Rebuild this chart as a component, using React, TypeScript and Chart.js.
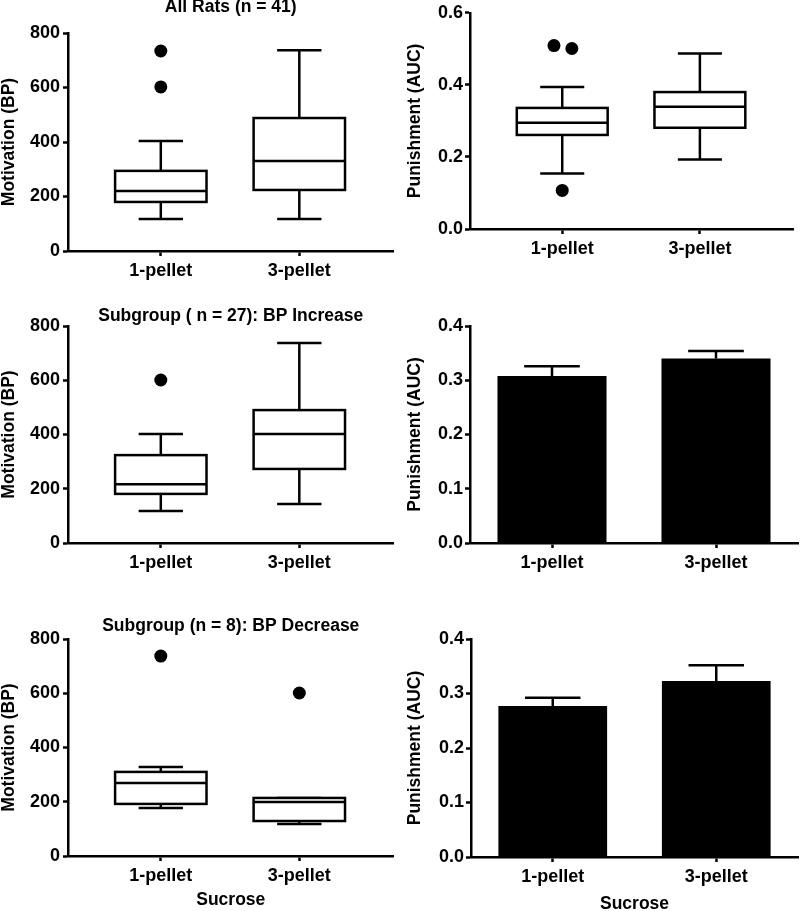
import React, { useEffect, useRef } from 'react';
import { Chart, registerables } from 'chart.js';
Chart.register(...registerables);

const FONT = "'Liberation Sans', Arial, Helvetica, sans-serif";

// Categories / tick labels
const categories = ['1-pellet', '3-pellet'];

// Box statistics: [min, q1, median, q3, max]
const allMotiv1Box = [117, 180, 220, 294, 404];
const allMotiv3Box = [117, 224, 330, 488, 737];
const allMotivOutX = [0, 0];
const allMotivOutY = [602, 734];

const allPun1Box = [0.154, 0.261, 0.295, 0.336, 0.394];
const allPun3Box = [0.193, 0.281, 0.339, 0.38, 0.487];
const allPunOutX = [-0.06, 0.07, 0];
const allPunOutY = [0.509, 0.501, 0.107];

const incMotiv1Box = [118, 181, 217, 324, 402];
const incMotiv3Box = [144, 273, 402, 490, 737];
const incMotivOutX = [0];
const incMotivOutY = [601];

const decMotiv1Box = [177, 192, 269, 310, 328];
const decMotiv3Box = [118, 129, 199, 214, 214];
const decMotivOutX = [0, 1];
const decMotivOutY = [737, 601];

// Bar means and SEM
const incPunMeans = [0.308, 0.34];
const incPunErr = [0.018, 0.014];
const decPunMeans = [0.277, 0.323];
const decPunErr = [0.015, 0.029];

const titles = ['All Rats (n = 41)', 'Subgroup ( n = 27): BP Increase', 'Subgroup (n = 8): BP Decrease'];
const motivTitle = 'Motivation (BP)';
const punTitle = 'Punishment (AUC)';
const xTitle = 'Sucrose';

type Area = { left: number; top: number; right: number; bottom: number };

const tickFont = { family: FONT, size: 18, weight: 'bold' as const };
const axisTitleFont = (lh: number) => ({ family: FONT, size: 17.5, weight: 'bold' as const, lineHeight: lh });

function boxPlugin(boxes: number[][], boxHalf: number, capHalf: number) {
  return {
    id: 'boxes',
    afterDatasetsDraw(chart: any) {
      const xs = chart.scales.x;
      const ys = chart.scales.y;
      const ctx = chart.ctx as CanvasRenderingContext2D;
      ctx.save();
      ctx.strokeStyle = '#000';
      ctx.lineWidth = 2.5;
      ctx.lineCap = 'butt';
      const line = (x1: number, y1: number, x2: number, y2: number) => {
        ctx.beginPath();
        ctx.moveTo(x1, y1);
        ctx.lineTo(x2, y2);
        ctx.stroke();
      };
      boxes.forEach((b, i) => {
        const [mn, q1, md, q3, mx] = b;
        const cx = xs.getPixelForValue(i);
        const hw = xs.getPixelForValue(i + boxHalf) - cx;
        const cw = xs.getPixelForValue(i + capHalf) - cx;
        const y = (v: number) => ys.getPixelForValue(v);
        line(cx, y(q3), cx, y(mx));
        line(cx - cw, y(mx), cx + cw, y(mx));
        line(cx, y(q1), cx, y(mn));
        line(cx - cw, y(mn), cx + cw, y(mn));
        ctx.fillStyle = '#fff';
        ctx.fillRect(cx - hw, y(q3), 2 * hw, y(q1) - y(q3));
        ctx.strokeRect(cx - hw, y(q3), 2 * hw, y(q1) - y(q3));
        line(cx - hw, y(md), cx + hw, y(md));
      });
      ctx.restore();
    },
  };
}

function errPlugin(means: number[], errs: number[], capFrac: number) {
  return {
    id: 'errs',
    afterDatasetsDraw(chart: any) {
      const meta = chart.getDatasetMeta(0);
      const ys = chart.scales.y;
      const ctx = chart.ctx as CanvasRenderingContext2D;
      ctx.save();
      ctx.strokeStyle = '#000';
      ctx.lineWidth = 2.5;
      meta.data.forEach((el: any, i: number) => {
        const top = ys.getPixelForValue(means[i] + errs[i]);
        const base = ys.getPixelForValue(means[i]);
        const hw = (el.width * capFrac) / 2;
        ctx.beginPath();
        ctx.moveTo(el.x, base);
        ctx.lineTo(el.x, top);
        ctx.moveTo(el.x - hw, top);
        ctx.lineTo(el.x + hw, top);
        ctx.stroke();
      });
      ctx.restore();
    },
  };
}

function titlePlugin(text: string | null, y: number) {
  return {
    id: 'ptitle',
    afterDraw(chart: any) {
      if (!text) return;
      const ctx = chart.ctx as CanvasRenderingContext2D;
      const a = chart.chartArea;
      ctx.save();
      ctx.fillStyle = '#000';
      ctx.font = `bold 17.5px ${FONT}`;
      ctx.textAlign = 'center';
      ctx.textBaseline = 'middle';
      ctx.fillText(text, (a.left + a.right) / 2, y);
      ctx.restore();
    },
  };
}

function yAxis(area: Area, max: number, step: number, text: string, decimals: number, titlePad: number, labelPad: number) {
  return {
    type: 'linear',
    min: 0,
    max,
    afterFit: (s: any) => {
      s.width = area.left;
    },
    border: { display: true, color: '#000', width: 2.5 },
    grid: { display: true, drawOnChartArea: false, drawTicks: true, tickLength: 5, tickWidth: 2.5, tickColor: '#000' },
    ticks: {
      stepSize: step,
      color: '#000',
      font: tickFont,
      padding: labelPad,
      callback: (v: any) => Number(v).toFixed(decimals),
    },
    title: { display: true, text, color: '#000', font: axisTitleFont(1), padding: { top: titlePad, bottom: 0 } },
  };
}

function xTitleOpts(show: boolean, lh: number, pad: number) {
  return show
    ? { display: true, text: xTitle, color: '#000', font: axisTitleFont(lh), padding: { top: 0, bottom: pad } }
    : { display: false };
}

type PanelSpec = {
  left: number;
  top: number;
  width: number;
  height: number;
  build: () => any;
};

function boxConfig(
  W: number,
  H: number,
  area: Area,
  boxes: number[][],
  outX: number[],
  outY: number[],
  yMax: number,
  yStep: number,
  yText: string,
  decimals: number,
  titlePad: number,
  labelPad: number,
  title: string | null,
  titleY: number,
  showX: boolean,
  xLh: number,
  xPad: number,
) {
  return {
    type: 'scatter',
    data: {
      datasets: [
        {
          data: outX.map((x, i) => ({ x, y: outY[i] })),
          backgroundColor: '#000',
          borderColor: '#000',
          borderWidth: 0,
          pointRadius: 6.5,
        },
      ],
    },
    options: {
      responsive: false,
      maintainAspectRatio: false,
      devicePixelRatio: 1,
      animation: false,
      layout: { padding: { left: 0, top: area.top, right: W - area.right, bottom: 0 } },
      plugins: { legend: { display: false }, tooltip: { enabled: false }, title: { display: false } },
      scales: {
        x: {
          type: 'linear',
          min: -0.67,
          max: 1.68,
          afterBuildTicks: (s: any) => {
            s.ticks = [{ value: 0 }, { value: 1 }];
          },
          afterFit: (s: any) => {
            s.height = H - area.bottom;
          },
          border: { display: true, color: '#000', width: 2.5 },
          grid: { display: true, drawOnChartArea: false, drawTicks: true, tickLength: 5, tickWidth: 2.5, tickColor: '#000' },
          ticks: {
            color: '#000',
            font: tickFont,
            padding: 4,
            autoSkip: false,
            maxRotation: 0,
            callback: (v: any) => categories[Math.round(Number(v))] ?? '',
          },
          title: xTitleOpts(showX, xLh, xPad),
        },
        y: yAxis(area, yMax, yStep, yText, decimals, titlePad, labelPad),
      },
    },
    plugins: [boxPlugin(boxes, 0.33, 0.16), titlePlugin(title, titleY)],
  };
}

function barConfig(
  W: number,
  H: number,
  area: Area,
  means: number[],
  errs: number[],
  showX: boolean,
  xLh: number,
  xPad: number,
) {
  return {
    type: 'bar',
    data: {
      labels: categories,
      datasets: [
        {
          data: means,
          backgroundColor: '#000',
          borderWidth: 0,
          barPercentage: 0.665,
          categoryPercentage: 1,
        },
      ],
    },
    options: {
      responsive: false,
      maintainAspectRatio: false,
      devicePixelRatio: 1,
      animation: false,
      layout: { padding: { left: 0, top: area.top, right: W - area.right, bottom: 0 } },
      plugins: { legend: { display: false }, tooltip: { enabled: false }, title: { display: false } },
      scales: {
        x: {
          type: 'category',
          offset: true,
          afterFit: (s: any) => {
            s.height = H - area.bottom;
          },
          border: { display: true, color: '#000', width: 2.5 },
          grid: {
            display: true,
            offset: false,
            drawOnChartArea: false,
            drawTicks: true,
            tickLength: 5,
            tickWidth: 2.5,
            tickColor: '#000',
          },
          ticks: { color: '#000', font: tickFont, padding: 4, autoSkip: false, maxRotation: 0 },
          title: xTitleOpts(showX, xLh, xPad),
        },
        y: yAxis(area, 0.4, 0.1, punTitle, 1, 6, 2),
      },
    },
    plugins: [errPlugin(means, errs, 0.51)],
  };
}

const panels: PanelSpec[] = [
  {
    left: 0,
    top: 0,
    width: 400,
    height: 300,
    build: () =>
      boxConfig(400, 300, { left: 68, top: 33, right: 397, bottom: 251 }, [allMotiv1Box, allMotiv3Box], allMotivOutX, allMotivOutY, 800, 200, motivTitle, 0, 0, 3, titles[0], 7, false, 1, 0),
  },
  {
    left: 400,
    top: 0,
    width: 400,
    height: 300,
    build: () =>
      boxConfig(400, 300, { left: 70, top: 11, right: 398, bottom: 229 }, [allPun1Box, allPun3Box], allPunOutX, allPunOutY, 0.6, 0.2, punTitle, 1, 6, 2, null, 0, false, 1, 0),
  },
  {
    left: 0,
    top: 300,
    width: 400,
    height: 300,
    build: () =>
      boxConfig(400, 300, { left: 68, top: 26, right: 397, bottom: 243 }, [incMotiv1Box, incMotiv3Box], incMotivOutX, incMotivOutY, 800, 200, motivTitle, 0, 0, 3, titles[1], 16, false, 1, 0),
  },
  {
    left: 400,
    top: 300,
    width: 400,
    height: 300,
    build: () => barConfig(400, 300, { left: 70, top: 26, right: 398, bottom: 243 }, incPunMeans, incPunErr, false, 1, 0),
  },
  {
    left: 0,
    top: 600,
    width: 400,
    height: 311,
    build: () =>
      boxConfig(400, 311, { left: 68, top: 39, right: 397, bottom: 256 }, [decMotiv1Box, decMotiv3Box], decMotivOutX, decMotivOutY, 800, 200, motivTitle, 0, 0, 3, titles[2], 26, true, 1, 2.25),
  },
  {
    left: 400,
    top: 600,
    width: 400,
    height: 311,
    build: () => barConfig(400, 311, { left: 71, top: 39, right: 398, bottom: 257 }, decPunMeans, decPunErr, true, 0.74, 0),
  },
];

function Panel({ spec }: { spec: PanelSpec }) {
  const ref = useRef<HTMLCanvasElement | null>(null);
  useEffect(() => {
    if (!ref.current) return;
    const chart = new Chart(ref.current, spec.build());
    return () => chart.destroy();
  }, [spec]);
  return (
    <canvas
      ref={ref}
      width={spec.width}
      height={spec.height}
      style={{ position: 'absolute', left: spec.left, top: spec.top, width: spec.width, height: spec.height }}
    />
  );
}

export default function App() {
  return (
    <div style={{ position: 'absolute', left: 0, top: 0, width: 800, height: 911, background: '#fff', overflow: 'hidden' }}>
      {panels.map((p, i) => (
        <Panel key={i} spec={p} />
      ))}
    </div>
  );
}
